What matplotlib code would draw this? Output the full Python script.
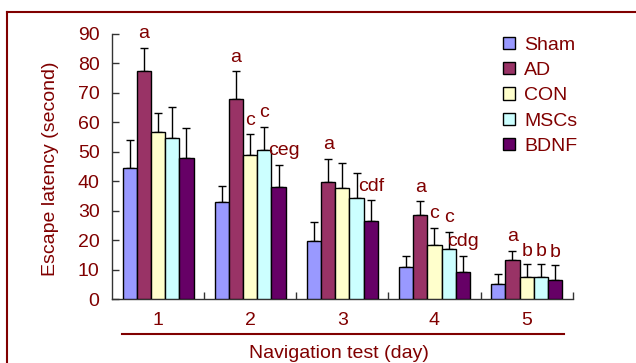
import numpy as np
import matplotlib
matplotlib.use("Agg")
import matplotlib.pyplot as plt
from matplotlib.patches import Rectangle
from matplotlib.lines import Line2D

plt.rcParams['font.family'] = ['Liberation Sans', 'DejaVu Sans']

days = ['1', '2', '3', '4', '5']
groups = ['Sham', 'AD', 'CON', 'MSCs', 'BDNF']
colors = ['#9999FF', '#993366', '#FFFFCC', '#CCFFFF', '#660066']

sham = [44.5, 32.9, 19.8, 11.1, 5.1]
ad = [77.5, 68.0, 39.7, 28.5, 13.2]
con = [56.6, 48.9, 37.6, 18.3, 7.6]
mscs = [54.6, 50.5, 34.5, 16.9, 7.6]
bdnf = [48.1, 38.2, 26.5, 9.3, 6.4]

sham_err = [9.6, 5.7, 6.3, 3.6, 3.6]
ad_err = [7.8, 9.3, 7.9, 4.7, 3.3]
con_err = [6.7, 7.1, 8.8, 6.0, 4.3]
mscs_err = [10.6, 8.0, 8.5, 6.0, 4.3]
bdnf_err = [10.1, 7.5, 7.1, 5.4, 5.1]

# significance letters: (day index, group index, text)
sig_labels = [
    (0, 1, 'a'),
    (1, 1, 'a'), (1, 2, 'c'), (1, 3, 'c'), (1, 4, 'ceg'),
    (2, 1, 'a'), (2, 4, 'cdf'),
    (3, 1, 'a'), (3, 2, 'c'), (3, 3, 'c'), (3, 4, 'cdg'),
    (4, 1, 'a'), (4, 2, 'b'), (4, 3, 'b'), (4, 4, 'b'),
]

values = [sham, ad, con, mscs, bdnf]
errors = [sham_err, ad_err, con_err, mscs_err, bdnf_err]

TXT = '#800000'
FS = 14

fig = plt.figure(figsize=(6.36, 3.63), dpi=100)
ax = fig.add_axes([112/636, 1-299.3/363, 460.7/636, 265.3/363])

x = np.arange(len(days))
w = 0.154
for j, (vals, errs, c, name) in enumerate(zip(values, errors, colors, groups)):
    pos = x + (j - 2) * w
    ax.bar(pos, vals, width=w, color=c, edgecolor='black', linewidth=1.0,
           zorder=3, label=name)
    ax.errorbar(pos, vals, yerr=[np.zeros(len(vals)), errs], fmt='none',
                ecolor='black', elinewidth=1.0, capsize=3.2, capthick=1.0, zorder=2)

for (d, g, t) in sig_labels:
    top = values[g][d] + errors[g][d]
    dx = 4 if t == 'ceg' else 0
    dy = 6 if t == 'b' else 7
    ax.annotate(t, (x[d] + (g - 2) * w, top), xytext=(dx, dy), textcoords='offset points',
                ha='center', va='baseline', color=TXT, fontsize=FS, zorder=5)

ax.set_xlim(-0.5, len(days) - 0.5)
ax.set_ylim(0, 90)
ax.set_yticks(np.arange(0, 91, 10))
ax.set_xticks(x)
ax.set_xticklabels(days)
ax.set_xticks(np.arange(0.5, len(days), 1.0), minor=True)
ax.tick_params(axis='x', which='major', length=0, pad=9, labelsize=FS, labelcolor=TXT)
ax.tick_params(axis='x', which='minor', direction='in', length=5, width=1.0, color='#333333')
ax.tick_params(axis='y', direction='in', length=5, width=1.0, pad=9, labelsize=FS,
               labelcolor=TXT, color='#333333')
for s in ['top', 'right']:
    ax.spines[s].set_visible(False)
for s in ['left', 'bottom']:
    ax.spines[s].set_color('#333333')
    ax.spines[s].set_linewidth(1.0)

# legend
handles = [Rectangle((0, 0), 1, 1, facecolor=c, edgecolor='black', linewidth=1.0) for c in colors]
fig.legend(handles, groups, loc='upper left', bbox_to_anchor=(503/636, 1-36.5/363),
           frameon=False, fontsize=FS, handlelength=0.6, handleheight=0.6,
           handletextpad=0.5, labelspacing=0.43, borderpad=0, borderaxespad=0,
           labelcolor=TXT)

# axis titles
fig.text(51/636, 1-169/363, 'Escape latency (second)', rotation=90, ha='center',
         va='center', color=TXT, fontsize=FS)
fig.text(339/636, 1-353/363, 'Navigation test (day)', ha='center', va='center',
         color=TXT, fontsize=FS)

# decorative line under day labels
fig.add_artist(Line2D([122/636, 564/636], [1-334/363, 1-334/363], color=TXT, lw=1.5))
# outer frame (top and left edges visible)
fig.add_artist(Line2D([7/636, 1.0], [1-11.5/363, 1-11.5/363], color=TXT, lw=1.5))
fig.add_artist(Line2D([7/636, 7/636], [0.0, 1-11.5/363], color=TXT, lw=1.5))

fig.savefig('out.png', dpi=100)
